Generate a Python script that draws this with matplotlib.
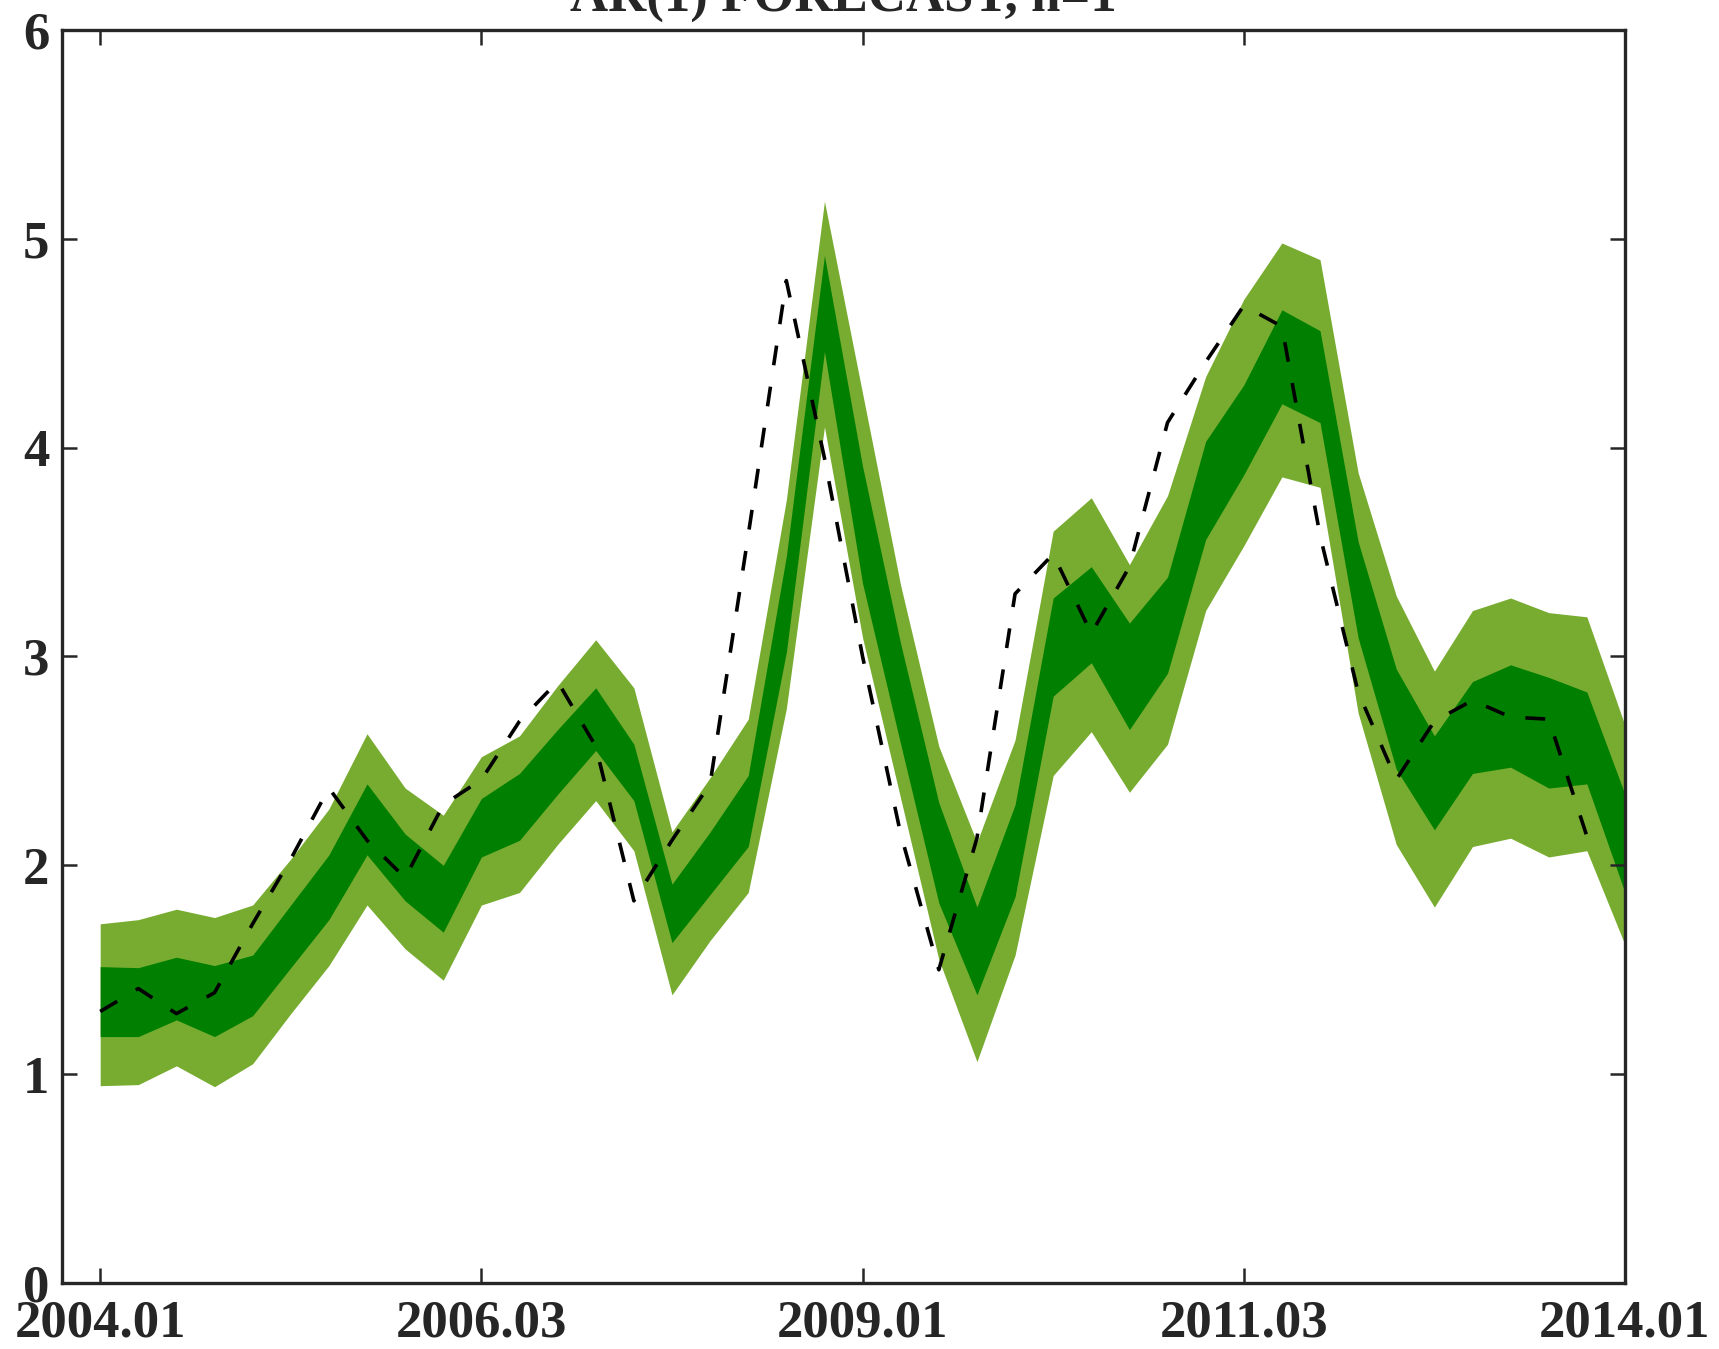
import matplotlib.pyplot as plt

# quarterly index 2004Q1 .. 2014Q1
quarters = list(range(41))
tick_pos = [0, 10, 20, 30, 40]
tick_labels = ['2004.01', '2006.03', '2009.01', '2011.03', '2014.01']

# forecast bands (outer = wide interval, inner = narrow interval)
outer_upper = [1.72, 1.74, 1.79, 1.75, 1.81, 2.03, 2.27, 2.63, 2.37, 2.24,
               2.52, 2.62, 2.86, 3.08, 2.85, 2.16, 2.42, 2.70, 3.75, 5.18,
               4.26, 3.34, 2.57, 2.11, 2.60, 3.60, 3.76, 3.44, 3.77, 4.34,
               4.71, 4.98, 4.90, 3.88, 3.29, 2.93, 3.22, 3.28, 3.21, 3.19,
               2.67]
inner_upper = [1.515, 1.51, 1.56, 1.52, 1.57, 1.81, 2.05, 2.39, 2.15, 2.00,
               2.32, 2.44, 2.65, 2.85, 2.58, 1.91, 2.16, 2.43, 3.48, 4.92,
               3.91, 3.06, 2.30, 1.80, 2.29, 3.28, 3.43, 3.16, 3.38, 4.03,
               4.30, 4.66, 4.56, 3.55, 2.94, 2.62, 2.88, 2.96, 2.90, 2.83,
               2.34]
inner_lower = [1.18, 1.18, 1.26, 1.18, 1.28, 1.51, 1.74, 2.05, 1.83, 1.68,
               2.04, 2.12, 2.34, 2.55, 2.31, 1.63, 1.86, 2.09, 3.02, 4.46,
               3.35, 2.58, 1.82, 1.38, 1.85, 2.81, 2.97, 2.65, 2.92, 3.56,
               3.87, 4.21, 4.12, 3.09, 2.46, 2.17, 2.44, 2.47, 2.37, 2.39,
               1.87]
outer_lower = [0.945, 0.95, 1.04, 0.94, 1.05, 1.29, 1.52, 1.81, 1.60, 1.45,
               1.81, 1.87, 2.10, 2.31, 2.07, 1.38, 1.64, 1.87, 2.75, 4.10,
               3.09, 2.32, 1.55, 1.06, 1.57, 2.43, 2.64, 2.35, 2.58, 3.22,
               3.53, 3.86, 3.81, 2.73, 2.10, 1.80, 2.09, 2.13, 2.04, 2.07,
               1.62]

# realised series (ends one quarter before the last forecast)
actual = [1.30, 1.41, 1.29, 1.39, 1.72, 2.03, 2.37, 2.12, 1.94, 2.29,
          2.41, 2.69, 2.88, 2.57, 1.83, 2.12, 2.39, 3.58, 4.80, 3.95,
          3.00, 2.15, 1.50, 2.13, 3.30, 3.49, 3.11, 3.43, 4.12, 4.41,
          4.68, 4.58, 3.58, 2.83, 2.41, 2.69, 2.79, 2.71, 2.70, 2.14]

LIGHT = '#77ac30'
DARK = '#007f00'
AXCOL = '#262626'

plt.rcParams['font.family'] = ['Liberation Serif', 'DejaVu Serif']
plt.rcParams['font.weight'] = 'bold'

fig = plt.figure(figsize=(17.19, 13.49), dpi=100)
ax = fig.add_axes([0.0361, 0.0489, 0.9092, 0.9289])

ax.fill_between(quarters, outer_lower, outer_upper, color=LIGHT, lw=0)
ax.fill_between(quarters, inner_lower, inner_upper, color=DARK, lw=0)
ax.plot(quarters[:len(actual)], actual, color='black', lw=2.6,
        linestyle=(0, (5.5, 6.0)))

ax.set_xlim(-1, 40)
ax.set_ylim(0, 6)
ax.set_xticks(tick_pos)
ax.set_xticklabels(tick_labels)
ax.set_yticks(range(7))

ax.tick_params(direction='in', length=11, width=1.8, color=AXCOL,
               top=True, right=True, labelsize=38, labelcolor=AXCOL)
ax.tick_params(axis='x', pad=12)
ax.tick_params(axis='y', pad=9)
for sp in ax.spines.values():
    sp.set_linewidth(2.4)
    sp.set_color(AXCOL)

fig.text(0.4907, 1 - 11 / 1349, 'AR(1) FORECAST, h=1', ha='center',
         va='baseline', fontsize=38, fontweight='bold', color=AXCOL)

fig.savefig('out.png', dpi=100)
